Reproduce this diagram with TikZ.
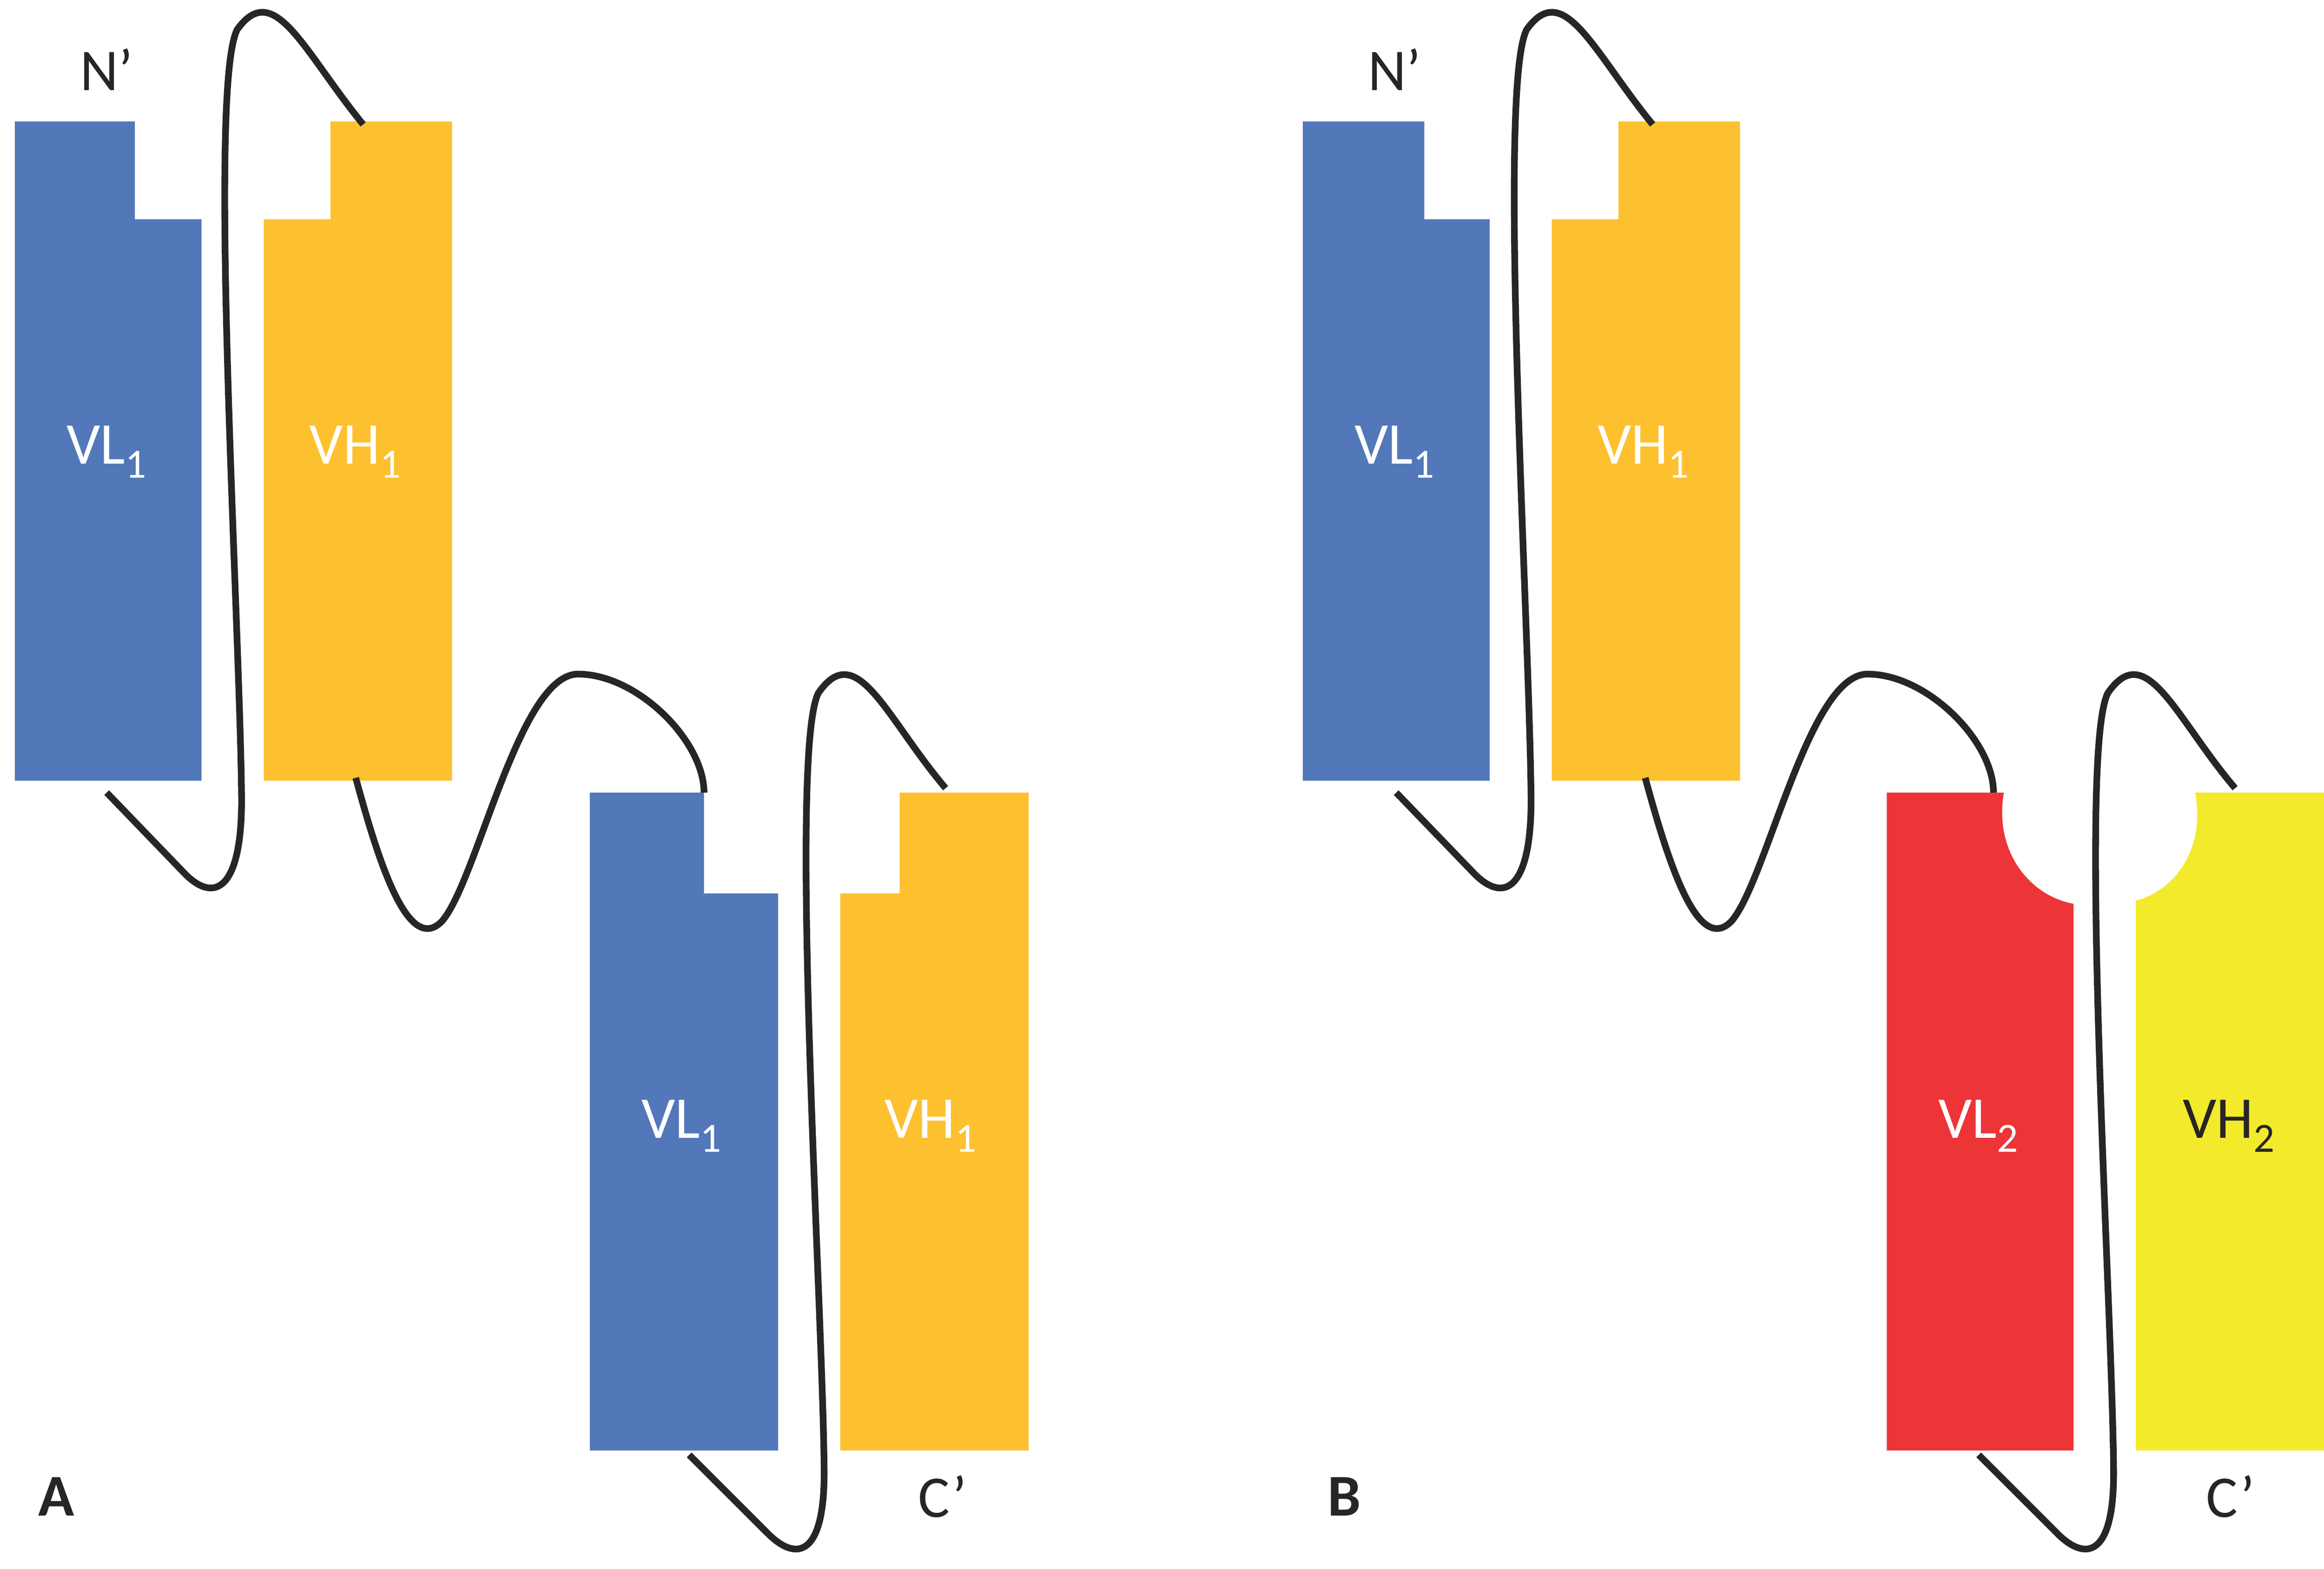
\documentclass[tikz,border=0pt]{standalone}
\usepackage{fontspec}
\setmainfont{Carlito}
\definecolor{vlblue}{RGB}{82,120,186}
\definecolor{vhorange}{RGB}{253,193,47}
\definecolor{vlred}{RGB}{237,52,55}
\definecolor{vhyellow}{RGB}{243,234,43}
\definecolor{linker}{RGB}{38,38,38}
\tikzset{every picture/.style={line width=0.75pt},
  link/.style={draw=linker,line width=4.5pt},
  dom/.style={text=white,font=\fontsize{40}{48}\selectfont},
  lbl/.style={text=linker,font=\fontsize{40}{48}\selectfont}}

\begin{document}
\begin{tikzpicture}[x=1pt,y=1pt,yscale=-1,xscale=1]
	\useasboundingbox (0,0) rectangle (1568,1059);
	%Panel A domains
	\fill [vlblue] (10,82) -- (91,82) -- (91,148) -- (136,148) -- (136,527) -- (10,527) -- cycle;
	\fill [vhorange] (223,82) -- (305,82) -- (305,527) -- (178,527) -- (178,148) -- (223,148) -- cycle;
	\fill [vlblue] (398,535) -- (475,535) -- (475,603) -- (525,603) -- (525,979) -- (398,979) -- cycle;
	\fill [vhorange] (607,535) -- (694,535) -- (694,979) -- (567,979) -- (567,603) -- (607,603) -- cycle;
	%Panel B domains
	\fill [vlblue] (879,82) -- (961,82) -- (961,148) -- (1005,148) -- (1005,527) -- (879,527) -- cycle;
	\fill [vhorange] (1092,82) -- (1174,82) -- (1174,527) -- (1047,527) -- (1047,148) -- (1092,148) -- cycle;
	\fill [vlred] (1273,535) -- (1352,535) .. controls (1345,575) and (1370,605) .. (1399,610) -- (1399,979) -- (1273,979) -- cycle;
	\fill [vhyellow] (1481,535) -- (1568,535) -- (1568,979) -- (1441,979) -- (1441,608) .. controls (1470,600) and (1488,570) .. (1481,535) -- cycle;
	%Labels
	\node [dom] (vla) at (72,305) {VL\textsubscript{1}};
	\node [dom] (vha) at (240,305) {VH\textsubscript{1}};
	\node [dom] (vlc) at (460,760) {VL\textsubscript{1}};
	\node [dom] (vhc) at (628,760) {VH\textsubscript{1}};
	\node [dom] (vlb) at (941,305) {VL\textsubscript{1}};
	\node [dom] (vhb) at (1109,305) {VH\textsubscript{1}};
	\node [dom] (vld) at (1335,760) {VL\textsubscript{2}};
	\node [lbl] (vhd) at (1504,760) {VH\textsubscript{2}};
	\node [lbl] (na) at (72,47) {N’};
	\node [lbl] (nb) at (941,47) {N’};
	\node [lbl] (ca) at (636,1010) {C’};
	\node [lbl] (cb) at (1505,1010) {C’};
	\node [lbl,font=\fontsize{40}{48}\selectfont\bfseries] (pa) at (38,1010) {A};
	\node [lbl,font=\fontsize{40}{48}\selectfont\bfseries] (pb) at (907,1010) {B};
	%Linkers
	\foreach \dx in {0,870}{
	\begin{scope}[xshift=\dx]
	\draw [link] (245,84) .. controls (205,35) and (185,-15) .. (160,20) .. controls (140,60) and (162,420) .. (163,540) .. controls (163,600) and (145,610) .. (125,590) -- (72,535);
	\draw [link] (240,525) .. controls (255,580) and (275,645) .. (298,622) .. controls (322,595) and (350,455) .. (390,455) .. controls (430,455) and (475,500) .. (475,535);
	\draw [link] (638,532) .. controls (598,485) and (578,430) .. (552,468) .. controls (532,510) and (555,880) .. (556,990) .. controls (557,1050) and (538,1055) .. (518,1035) -- (465,982);
	\end{scope}}
\end{tikzpicture}
\end{document}
